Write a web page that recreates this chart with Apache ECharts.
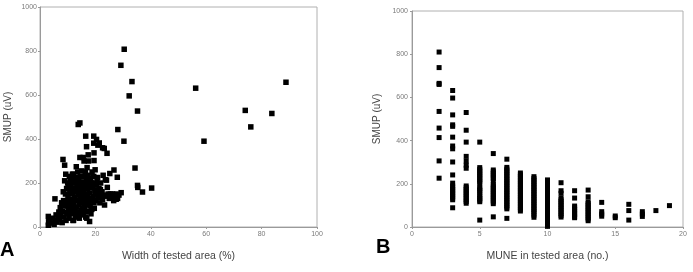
<!DOCTYPE html>
<html>
<head>
<meta charset="utf-8">
<script src="https://cdn.jsdelivr.net/npm/echarts@6/dist/echarts.min.js"></script>
<style>
html, body { margin: 0; padding: 0; background: #fff; }
#main { width: 693px; height: 272px; }
</style>
</head>
<body>
<div id="main"></div>
<script>
// panel A: width of tested area (%) vs SMUP (uV)
var pointsA = [
    [30.4,808],[29.2,735],[33.2,661],[32.2,596],[35.2,527],[28.1,443],[30.3,390],[34.3,268],
    [35.2,189],[35.3,180],[37,159],[40.3,177],[29.3,156],[27.5,126],[26.7,259],[27.9,226],
    [56.2,631],[59.2,390],[74.1,530],[76.1,455],[83.7,516],[88.8,658],
    [14.4,473],[13.8,466],[16.5,413],[19.4,413],[20.4,398],[21.4,382],[16.8,365],[19.4,381],
    [23.2,357],[24.2,335],[14.4,316],[15.6,316],[17.4,328],[19.5,337],[19.5,302],[8.3,307],
    [8.9,281],[13.1,274],[25.2,243],[24,213],[20.9,372],[22.6,360],
    [3.0,8],[3.1,22],[3.2,35],[3.0,48],
    [4.2,18],[4.6,40],[5.1,12],[5.4,128],[5.6,30],[5.8,55],[6.2,22],[6.5,42],[6.8,68],
    [7.0,35],[7.3,88],[7.5,52],[7.8,110],[8.0,20],[8.2,70],[8.5,120],[8.7,45],[9.0,95],
    [9.2,150],[9.4,30],[9.6,175],[9.8,120],[9.9,65],
    [10.0,200],[10.1,140],[10.2,85],[10.4,110],[10.5,40],[10.6,230],[10.8,160],[11.0,60],
    [11.1,125],[11.2,190],[11.4,95],[11.6,215],[11.8,150],[11.9,30],
    [12.0,240],[12.1,105],[12.2,175],[12.4,70],[12.5,135],[12.6,200],[12.8,50],[12.9,160],
    [13.0,225],[13.1,90],[13.3,185],[13.4,120],[13.6,250],[13.7,65],[13.9,145],
    [14.0,210],[14.1,100],[14.2,40],[14.4,170],[14.5,130],[14.6,230],[14.8,75],[14.9,190],
    [15.0,150],[15.1,255],[15.3,110],[15.4,205],[15.6,55],[15.7,165],[15.9,230],[15.9,300],
    [16.0,135],[16.1,90],[16.2,195],[16.4,250],[16.5,45],[16.6,150],[16.8,215],[16.9,110],
    [17.0,270],[17.1,175],[17.3,70],[17.4,235],[17.6,130],[17.8,190],[17.9,25],[17.5,300],
    [18.0,155],[18.1,95],[18.3,220],[18.4,60],[18.6,180],[18.8,250],[18.9,120],[19.0,200],
    [19.2,140],[19.4,230],[19.6,85],[19.8,165],[19.9,260],
    [20.1,120],[20.3,190],[20.5,150],[20.8,225],[21.0,135],[21.3,175],[21.6,110],[21.9,200],
    [22.1,140],[22.4,160],[22.8,235],[22.6,125],
    [23.0,145],[23.3,100],[23.6,215],[24.0,140],[24.3,180],[24.6,150],[25.0,130],[25.4,150],
    [25.8,140],[26.2,150],[26.6,120],[27.0,140],[27.5,150],[28.0,130],[28.5,145],
    [8.4,160],[8.9,210],[9.3,240],[9.7,60],[10.3,180],[10.7,100],[11.3,75],[11.5,170],
    [11.7,240],[12.3,120],[12.7,90],[12.9,215],[13.2,45],[13.5,160],[13.8,195],[14.3,60],
    [14.6,110],[14.7,150],[15.2,85],[15.5,180],[15.8,125],[16.3,70],[16.7,175],[16.3,230],
    [17.2,150],[17.7,100],[17.3,210],[18.2,120],[18.5,200],[18.7,80],[19.1,180],[19.5,110],
    [20.0,160],[20.6,210],[21.2,150],[21.8,170],[9.5,100],[10.9,210],[12.1,30],[16.9,40]
];

// panel B: MUNE count and the SMUP values found at each count
var muneB = [2, 3, 4, 5, 6, 7, 8, 9, 10, 11, 12, 13, 14, 15, 16, 17, 18, 19];
var smupB = [
    [810,738,665,660,535,458,414,306,226],
    [632,597,519,473,466,416,375,362,301,241,203,190,182,174,166,158,150,142,134,126,89],
    [530,448,393,327,305,286,272,190,182,174,166,158,150,142,134,126,118,110],
    [393,275,267,259,251,243,235,227,219,211,203,185,177,169,161,148,140,132,124,117,32],
    [340,264,256,248,240,232,224,212,196,188,180,172,164,156,148,140,132,124,116,108,47],
    [314,276,268,260,252,244,236,228,220,212,204,196,188,180,172,164,156,148,140,132,124,116,108,100,92,84,40],
    [250,242,234,226,218,210,202,194,186,178,170,162,154,146,138,130,122,114,106,98,90,82,74],
    [233,225,217,209,201,193,185,177,169,161,153,145,137,129,121,113,105,97,89,81,73,65,55,45],
    [218,210,202,194,186,178,170,162,154,146,138,130,122,114,106,98,90,82,74,66,58,50,42,34,26,18,10,3],
    [205,168,156,134,126,118,110,102,94,86,78,70,62,54,46],
    [168,134,97,89,81,73,65,57,49,43],
    [171,140,117,109,101,93,85,77,69,61,53,45,37,29],
    [114,71,60,50],
    [51,43],
    [105,76,32],
    [71,60,49],
    [76],
    [99]
];

var xTicksA = ['0', '20', '40', '60', '80', '100'];
var xTicksB = ['0', '5', '10', '15', '20'];
var yTicks = ['0', '200', '400', '600', '800', '1000'];

var dataB = [];
muneB.forEach(function (m, i) {
    smupB[i].forEach(function (v) {
        dataB.push([m, v]);
    });
});

var axisGray = '#9a9a9a';
var labelGray = '#7a7a7a';

function valueAxis(grid, min, max, step, labels) {
    return {
        gridIndex: grid,
        type: 'value',
        min: min,
        max: max,
        interval: step,
        axisLine: { show: true, lineStyle: { color: axisGray, width: 1 } },
        axisTick: { show: true, length: 2, lineStyle: { color: axisGray } },
        axisLabel: {
            fontSize: 7, color: labelGray, margin: 4, fontFamily: 'Arial',
            formatter: function (v) { return labels[Math.round((v - min) / step)]; }
        },
        splitLine: { show: false },
        nameLocation: 'middle',
        nameTextStyle: { fontSize: 10, color: '#444', fontFamily: 'Arial' }
    };
}

var xA = valueAxis(0, 0, 100, 20, xTicksA);
xA.name = 'Width of tested area (%)';
xA.nameGap = 24;
xA.nameTextStyle.fontSize = 10.5;
var yA = valueAxis(0, 0, 1000, 200, yTicks);
yA.name = 'SMUP (uV)';
yA.nameGap = 27;
yA.axisLabel.margin = 3;

var xB = valueAxis(1, 0, 20, 5, xTicksB);
xB.name = 'MUNE in tested area (no.)';
xB.nameGap = 24;
xB.nameTextStyle.fontSize = 10.5;
var yB = valueAxis(1, 0, 1000, 200, yTicks);
yB.name = 'SMUP (uV)';
yB.nameGap = 30;

var option = {
    animation: false,
    backgroundColor: '#fff',
    grid: [
        { left: 40, top: 7, width: 277, height: 220, show: true, borderColor: '#b0b0b0', borderWidth: 1 },
        { left: 412, top: 11, width: 271, height: 216, show: true, borderColor: '#b0b0b0', borderWidth: 1 }
    ],
    xAxis: [xA, xB],
    yAxis: [yA, yB],
    graphic: [
        { type: 'text', left: 0, top: 240, style: { text: 'A', font: 'bold 20px Arial', fill: '#000' } },
        { type: 'text', left: 376, top: 237, style: { text: 'B', font: 'bold 20px Arial', fill: '#000' } }
    ],
    series: [
        {
            type: 'scatter', xAxisIndex: 0, yAxisIndex: 0,
            symbol: 'rect', symbolSize: 5.5,
            itemStyle: { color: '#000', opacity: 1 },
            data: pointsA
        },
        {
            type: 'scatter', xAxisIndex: 1, yAxisIndex: 1,
            symbol: 'rect', symbolSize: 5,
            itemStyle: { color: '#000', opacity: 1 },
            data: dataB
        }
    ]
};

var myChart = echarts.init(document.getElementById('main'));
myChart.setOption(option);
</script>
</body>
</html>
